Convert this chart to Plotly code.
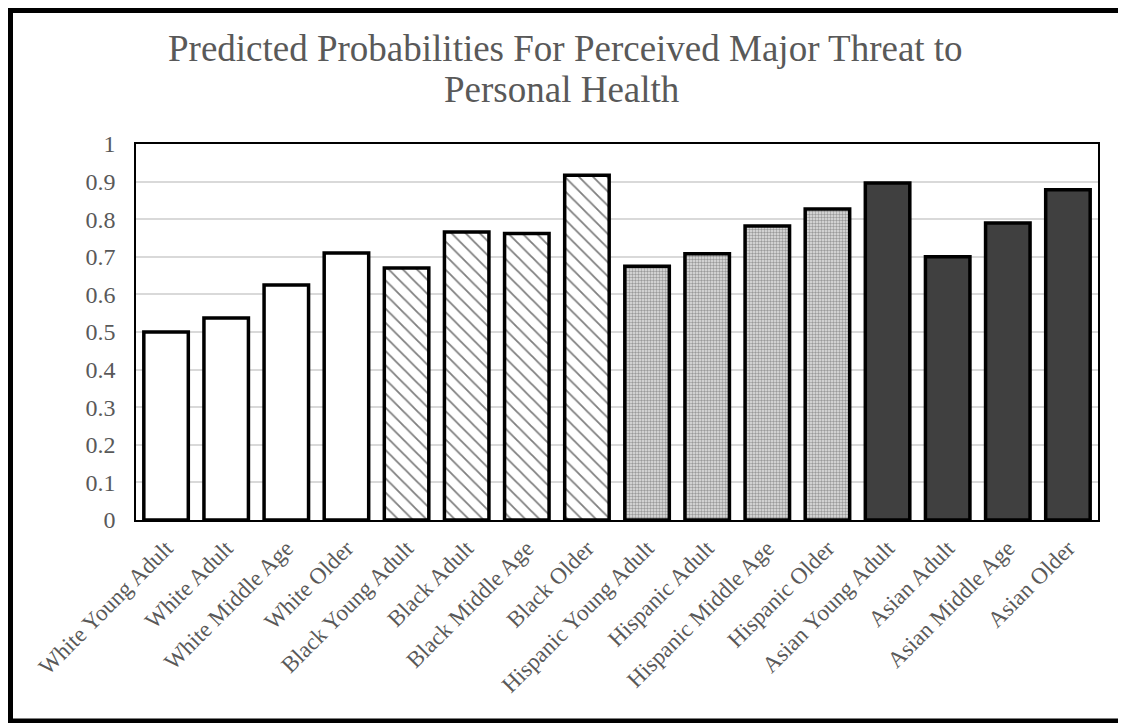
import plotly.graph_objects as go

categories = ["White Young Adult", "White Adult", "White Middle Age", "White Older",
              "Black Young Adult", "Black Adult", "Black Middle Age", "Black Older",
              "Hispanic Young Adult", "Hispanic Adult", "Hispanic Middle Age", "Hispanic Older",
              "Asian Young Adult", "Asian Adult", "Asian Middle Age", "Asian Older"]
values = [0.50, 0.537, 0.625, 0.71,
          0.67, 0.766, 0.762, 0.917,
          0.675, 0.708, 0.782, 0.827,
          0.896, 0.70, 0.79, 0.878]
groups = ["White", "Black", "Hispanic", "Asian"]
y_ticks = [0, 0.1, 0.2, 0.3, 0.4, 0.5, 0.6, 0.7, 0.8, 0.9, 1]
y_tick_labels = ["0", "0.1", "0.2", "0.3", "0.4", "0.5", "0.6", "0.7", "0.8", "0.9", "1"]
title_lines = ["Predicted Probabilities For Perceived Major Threat to", "Personal Health"]

styles = {
    "White": dict(color="white", pattern=dict(shape="")),
    "Black": dict(color="white", pattern=dict(shape="\\", fgcolor="black", bgcolor="white",
                                               size=10, solidity=0.18, fillmode="overlay")),
    "Hispanic": dict(color="#d4d4d4", pattern=dict(shape=".", fgcolor="#9a9a9a", bgcolor="#e4e4e4",
                                                    size=3, solidity=0.5, fillmode="replace")),
    "Asian": dict(color="#404040", pattern=dict(shape="")),
}

fig = go.Figure()
for gi, g in enumerate(groups):
    xs = categories[gi * 4:(gi + 1) * 4]
    ys = values[gi * 4:(gi + 1) * 4]
    st = styles[g]
    fig.add_trace(go.Bar(
        x=xs, y=ys, name=g,
        marker=dict(color=st["color"], pattern=st["pattern"],
                    line=dict(color="black", width=3.5)),
        showlegend=False,
    ))

# page body adds an 8px offset; figure coordinates are shifted accordingly
OFF = 8
W, H = 1118, 715
L, R, T, B = 128, 28, 136, 203
PW, PH = W - L - R, H - T - B


def px_x(sx):
    return (sx - OFF - L) / PW


def px_y(sy):
    return (T + PH - (sy - OFF)) / PH


serif = "Liberation Serif, Times New Roman, serif"
title_font = dict(family=serif, size=37, color="#595959")
annotations = [
    dict(text=title_lines[0], xref="paper", yref="paper", x=px_x(565), y=px_y(71),
         xanchor="center", yanchor="bottom", showarrow=False, font=title_font),
    dict(text=title_lines[1], xref="paper", yref="paper", x=px_x(562), y=px_y(112),
         xanchor="center", yanchor="bottom", showarrow=False, font=title_font),
]

fig.update_layout(
    width=W, height=H,
    margin=dict(l=L, r=R, t=T, b=B, pad=0),
    paper_bgcolor="white", plot_bgcolor="white",
    bargap=0.26,
    font=dict(family=serif, color="#595959", size=24),
    annotations=annotations,
    xaxis=dict(categoryorder="array", categoryarray=categories, tickangle=-45,
               showline=True, linecolor="black", linewidth=1.5, mirror=True,
               tickfont=dict(family=serif, size=23, color="#595959"),
               ticks="", ticklabelstandoff=4),
    yaxis=dict(range=[0, 1], tickvals=y_ticks, ticktext=y_tick_labels,
               showgrid=True, gridcolor="#d9d9d9", gridwidth=1.5,
               showline=True, linecolor="black", linewidth=1.5, mirror=True,
               zeroline=False, ticks="", ticklabelstandoff=14,
               tickfont=dict(family=serif, size=24, color="#595959")),
    shapes=[dict(type="rect", xref="paper", yref="paper",
                 x0=px_x(OFF + 2.5), x1=px_x(1123),
                 y0=px_y(721), y1=px_y(OFF + 2.5),
                 line=dict(color="black", width=5), fillcolor="rgba(0,0,0,0)", layer="below")],
)

fig.write_html("out.html")
